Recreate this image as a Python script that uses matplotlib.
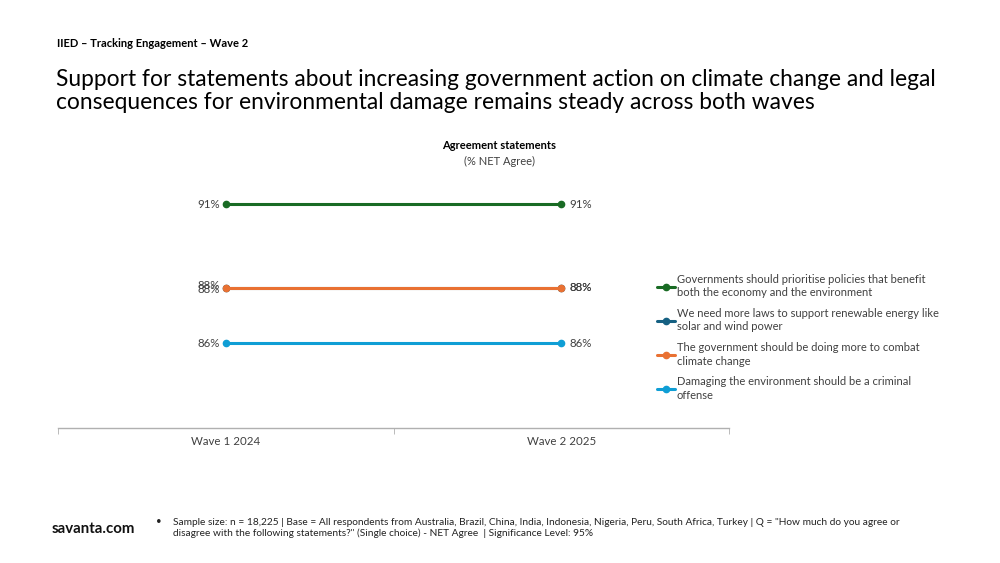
import matplotlib
matplotlib.use("Agg")
import matplotlib.pyplot as plt
from matplotlib.ticker import FixedLocator

plt.rcParams['font.family'] = ['Lato', 'DejaVu Sans']

categories = ["Wave 1 2024", "Wave 2 2025"]
series_names = [
    "Governments should prioritise policies that benefit\nboth the economy and the environment",
    "We need more laws to support renewable energy like\nsolar and wind power",
    "The government should be doing more to combat\nclimate change",
    "Damaging the environment should be a criminal\noffense",
]
series_values = [
    [91, 91],
    [88, 88],
    [88, 88],
    [86, 86],
]
colors = ["#196B24", "#156082", "#E97132", "#0F9ED5"]
# tiny vertical offsets (points) of first-point labels, as in the reference
left_label_dy = [0, 1.5, -1.5, 0]

fig = plt.figure(figsize=(10, 5.63), dpi=100)
ax = fig.add_axes([0.058, 0.2398, 0.671, 0.444])

x = list(range(len(categories)))
handles = []
for i in range(len(series_values)):
    (h,) = ax.plot(x, series_values[i], color=colors[i], lw=2.2, marker='o',
                   ms=4.5, solid_capstyle='round', zorder=3 + (1 if i == 2 else 0))
    handles.append(h)

for i in range(len(series_values)):
    v0, v1 = series_values[i]
    ax.annotate(f"{v0}%", (x[0], v0), xytext=(-4, left_label_dy[i]), textcoords='offset points',
                ha='right', va='center', fontsize=8.3, color='#404040')
    ax.annotate(f"{v1}%", (x[1], v1), xytext=(6, 0), textcoords='offset points',
                ha='left', va='center', fontsize=8.3, color='#404040')

ax.set_xlim(-0.5, 1.5)
ax.set_ylim(82.95, 91.95)
for s in ['top', 'right', 'left']:
    ax.spines[s].set_visible(False)
ax.spines['bottom'].set_color('#B0B0B0')
ax.spines['bottom'].set_linewidth(1)
ax.set_yticks([])
ax.set_xticks(x)
ax.set_xticklabels(categories, fontsize=8.3, color='#404040')
ax.tick_params(axis='x', which='major', length=0, pad=6)
ax.xaxis.set_minor_locator(FixedLocator([-0.5, 0.5, 1.5]))
ax.tick_params(axis='x', which='minor', length=4, color='#B0B0B0', direction='out')

leg = fig.legend(handles, series_names, loc='upper left', bbox_to_anchor=(0.653, 0.522),
                 frameon=False, fontsize=8, handlelength=1.6, handletextpad=0.15,
                 labelspacing=0.85, borderaxespad=0)
for t in leg.get_texts():
    t.set_color('#404040')
    t.set_linespacing(1.3)

fig.text(0.057, 0.923, "IIED – Tracking Engagement – Wave 2", fontsize=8, fontweight='bold',
         color='#000000', ha='left', va='center')
fig.text(0.056, 0.838, "Support for statements about increasing government action on climate change and legal\n"
         "consequences for environmental damage remains steady across both waves",
         fontsize=16.4, color='#000000', ha='left', va='center', linespacing=1.1)

fig.text(0.499, 0.742, "Agreement statements", fontsize=8, fontweight='bold', ha='center', va='center',
         color='#000000')
fig.text(0.499, 0.714, "(% NET Agree)", fontsize=8, ha='center', va='center', color='#404040')

fig.text(0.052, 0.060, "savanta.com", fontsize=10.8, fontweight='bold', ha='left', va='center',
         color='#111111')
fig.text(0.156, 0.074, "•", fontsize=7, ha='left', va='center', color='#222222')
fig.text(0.173, 0.062,
         "Sample size: n = 18,225 | Base = All respondents from Australia, Brazil, China, India, Indonesia, Nigeria, Peru, South Africa, Turkey | Q = \"How much do you agree or\n"
         "disagree with the following statements?\" (Single choice) - NET Agree  | Significance Level: 95%",
         fontsize=7.3, ha='left', va='center', color='#222222', linespacing=1.15)

fig.savefig("out.png", dpi=100, facecolor='white')
